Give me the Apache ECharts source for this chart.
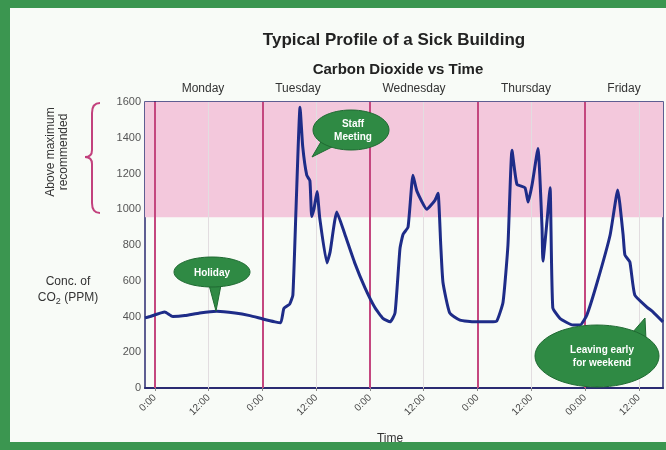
<!DOCTYPE html>
<html>
<head>
<meta charset="utf-8">
<script src="https://cdn.jsdelivr.net/npm/echarts@6/dist/echarts.min.js"></script>
<style>
  html, body { margin: 0; padding: 0; background: #3b9650; }
  #chart { width: 666px; height: 450px; }
</style>
</head>
<body>
<div id="chart"></div>
<script>
// hours from Monday 0:00, CO2 in ppm
var hours = [-2.2, -1.1, 2.2, 4.0, 6.7, 10.0, 13.8, 17.9, 21.2, 24.1, 26.8, 28.1, 28.8, 30.1, 30.8, 31.5, 32.4,
  33.0, 33.9, 34.6, 35.0, 35.5, 36.2, 36.8, 38.4, 39.1, 40.6, 42.4, 44.6, 46.9, 49.1, 50.9, 52.5, 53.6,
  54.7, 55.4, 56.5, 57.6, 58.5, 60.7, 62.5, 63.2, 63.8, 64.3, 65.8, 68.1, 71.4, 74.8, 76.3, 77.7, 78.8,
  79.7, 80.8, 82.6, 83.3, 84.2, 85.5, 86.4, 86.6, 87.5, 88.2, 88.8, 90.4, 93.3, 94.9, 96.4, 98.7, 101.6,
  103.3, 104.5, 104.9, 106.0, 107.1, 109.8, 111.2, 113.4];
var co2 = [392, 400, 425, 400, 405, 420, 430, 420, 405, 386, 370, 365, 445, 470, 520, 1000, 1570,
  1350, 1190, 1160, 960, 1000, 1100, 950, 700, 760, 985, 860, 700, 560, 450, 390, 370, 420,
  780, 860, 900, 1190, 1100, 1000, 1050, 1090, 800, 590, 420, 380, 370, 370, 375, 480, 800,
  1330, 1140, 1120, 1040, 1140, 1340, 900, 710, 930, 1120, 450, 390, 352, 352, 408, 590, 856,
  1108, 856, 744, 705, 520, 453, 425, 370];
var tickHours = [0, 12, 24, 36, 48, 60, 72, 84, 96, 108];
var tickLabels = ['0:00', '12:00', '0:00', '12:00', '0:00', '12:00', '0:00', '12:00', '00:00', '12:00'];
var dayStarts = [0, 24, 48, 72, 96];
var middays = [12, 36, 60, 84, 108];
var days = ['Monday', 'Tuesday', 'Wednesday', 'Thursday', 'Friday'];
var dayLabelX = [203, 298, 414, 526, 624];
var maxRecommended = 955;

var chart = echarts.init(document.getElementById('chart'));

var points = [];
for (var i = 0; i < hours.length; i++) {
  points.push([hours[i], co2[i]]);
}

var bubbleGreen = '#2f8a44';
var ink = '#222';

var graphics = [
  // inner panel
  { type: 'rect', z: -10, shape: { x: 10, y: 8, width: 656, height: 434 }, style: { fill: '#f8fbf7' } },
  { type: 'text', x: 394, y: 40, style: { text: 'Typical Profile of a Sick Building', font: 'bold 17px "Liberation Sans", Arial', fill: ink, align: 'center', verticalAlign: 'middle' } },
  { type: 'text', x: 398, y: 70, style: { text: 'Carbon Dioxide vs Time', font: 'bold 15px "Liberation Sans", Arial', fill: ink, align: 'center', verticalAlign: 'middle' } },
  { type: 'text', x: 57, y: 152, rotation: Math.PI / 2, style: { text: 'Above maximum\nrecommended', font: '12px "Liberation Sans", Arial', fill: '#333', align: 'center', verticalAlign: 'middle', lineHeight: 13 } },
  { type: 'text', x: 68, y: 290, style: { text: 'Conc. of\nCO{s|2} (PPM)', font: '12px "Liberation Sans", Arial', fill: '#333', align: 'center', verticalAlign: 'middle', lineHeight: 16,
      rich: { s: { fontSize: 9, padding: [8, 0, 0, 0], fill: '#333' } } } },
  { type: 'text', x: 390, y: 439, style: { text: 'Time', font: '12px "Liberation Sans", Arial', fill: '#333', align: 'center', verticalAlign: 'middle' } },
  // brace
  { type: 'bezierCurve', shape: { x1: 100, y1: 103, cpx1: 92, cpy1: 103, x2: 92, y2: 113 }, style: { stroke: '#c2417d', lineWidth: 2, fill: null } },
  { type: 'line', shape: { x1: 92, y1: 113, x2: 92, y2: 150 }, style: { stroke: '#c2417d', lineWidth: 2 } },
  { type: 'bezierCurve', shape: { x1: 92, y1: 150, cpx1: 92, cpy1: 157, x2: 85, y2: 157 }, style: { stroke: '#c2417d', lineWidth: 2, fill: null } },
  { type: 'bezierCurve', shape: { x1: 85, y1: 157, cpx1: 92, cpy1: 157, x2: 92, y2: 164 }, style: { stroke: '#c2417d', lineWidth: 2, fill: null } },
  { type: 'line', shape: { x1: 92, y1: 164, x2: 92, y2: 203 }, style: { stroke: '#c2417d', lineWidth: 2 } },
  { type: 'bezierCurve', shape: { x1: 92, y1: 203, cpx1: 92, cpy1: 213, x2: 100, y2: 213 }, style: { stroke: '#c2417d', lineWidth: 2, fill: null } },
  // Staff Meeting bubble
  { type: 'polygon', z: 100, shape: { points: [[322, 140], [312, 157], [334, 146]] }, style: { fill: bubbleGreen, stroke: '#1f6a32' } },
  { type: 'ellipse', z: 100, shape: { cx: 351, cy: 130, rx: 38, ry: 20 }, style: { fill: bubbleGreen, stroke: '#1f6a32' } },
  { type: 'text', z: 101, x: 353, y: 131, style: { text: 'Staff\nMeeting', font: 'bold 10px "Liberation Sans", Arial', fill: '#fff', align: 'center', verticalAlign: 'middle', lineHeight: 13 } },
  // Holiday bubble
  { type: 'polygon', z: 100, shape: { points: [[209, 285], [216, 311], [221, 285]] }, style: { fill: bubbleGreen, stroke: '#1f6a32' } },
  { type: 'ellipse', z: 100, shape: { cx: 212, cy: 272, rx: 38, ry: 15 }, style: { fill: bubbleGreen, stroke: '#1f6a32' } },
  { type: 'text', z: 101, x: 212, y: 273, style: { text: 'Holiday', font: 'bold 10px "Liberation Sans", Arial', fill: '#fff', align: 'center', verticalAlign: 'middle' } },
  // Leaving early bubble
  { type: 'polygon', z: 100, shape: { points: [[632, 333], [645, 318], [646, 340]] }, style: { fill: bubbleGreen, stroke: '#1f6a32' } },
  { type: 'ellipse', z: 100, shape: { cx: 597, cy: 356, rx: 62, ry: 31 }, style: { fill: bubbleGreen, stroke: '#1f6a32' } },
  { type: 'text', z: 101, x: 602, y: 357, style: { text: 'Leaving early\nfor weekend', font: 'bold 10px "Liberation Sans", Arial', fill: '#fff', align: 'center', verticalAlign: 'middle', lineHeight: 13 } }
];
for (var d = 0; d < days.length; d++) {
  graphics.push({ type: 'text', x: dayLabelX[d], y: 89, style: { text: days[d], font: '12px "Liberation Sans", Arial', fill: '#333', align: 'center', verticalAlign: 'middle' } });
}

var dayLines = dayStarts.map(function (h) {
  return { xAxis: h, lineStyle: { color: '#c4477f', width: 2, type: 'solid' } };
});
var noonLines = middays.map(function (h) {
  return { xAxis: h, lineStyle: { color: '#e2dde0', width: 1, type: 'solid' } };
});

chart.setOption({
  backgroundColor: '#3b9650',
  animation: false,
  grid: { left: 145, top: 102, right: 3, bottom: 62, show: true, borderColor: '#2b2b72', borderWidth: 1.5, backgroundColor: 'transparent' },
  xAxis: {
    type: 'value',
    min: -2.2,
    max: 113.4,
    axisLine: { show: true, lineStyle: { color: '#2b2b72', width: 2 } },
    axisTick: { show: true, customValues: tickHours, length: 3, lineStyle: { color: '#888' } },
    splitLine: { show: false },
    axisLabel: {
      customValues: tickHours,
      rotate: 45,
      fontSize: 10,
      color: '#444',
      fontFamily: 'Liberation Sans',
      formatter: function (v) {
        var k = tickHours.indexOf(Math.round(v));
        return k >= 0 ? tickLabels[k] : '';
      }
    }
  },
  yAxis: {
    type: 'value',
    min: 0,
    max: 1600,
    interval: 200,
    axisLine: { show: true, lineStyle: { color: '#2b2b72', width: 2 } },
    axisTick: { show: false },
    splitLine: { show: false },
    axisLabel: { fontSize: 11, color: '#555', fontFamily: 'Liberation Sans', margin: 4, formatter: function (v) { return String(v); } }
  },
  graphic: graphics,
  series: [{
    type: 'line',
    data: points,
    showSymbol: false,
    smooth: 0.15,
    lineStyle: { color: '#1e2c88', width: 3 },
    z: 5,
    markArea: {
      silent: true,
      itemStyle: { color: '#f3c8dc' },
      data: [[{ yAxis: maxRecommended }, { yAxis: 1600 }]]
    },
    markLine: {
      silent: true,
      symbol: 'none',
      label: { show: false },
      data: noonLines.concat(dayLines)
    }
  }]
});
</script>
</body>
</html>
